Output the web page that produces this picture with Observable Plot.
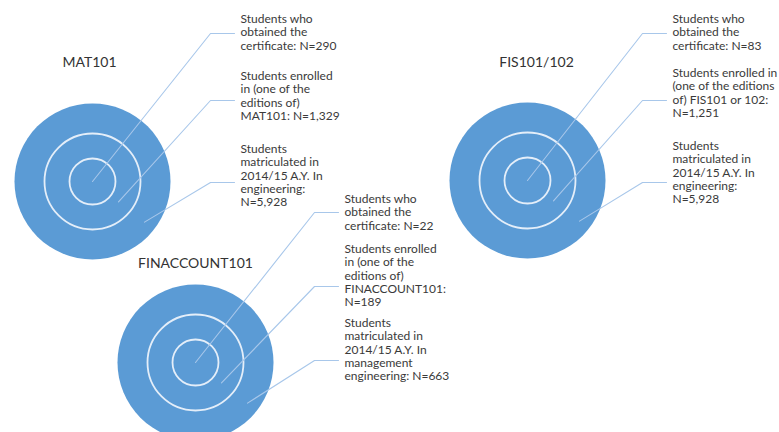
<!DOCTYPE html>
<html>
<head>
<meta charset="utf-8">
<script src="https://cdn.jsdelivr.net/npm/d3@7"></script>
<script src="https://cdn.jsdelivr.net/npm/@observablehq/plot@0.6"></script>
<style>
  html, body { margin: 0; padding: 0; background: #ffffff; }
  svg { display: block; }
</style>
</head>
<body>
<div id="chart"></div>
<script>
// ---- data ----
const courses = ["MAT101", "FIS101/102", "FINACCOUNT101"];
const certified = [290, 83, 22];
const enrolled = [1329, 1251, 189];
const matriculated = [5928, 5928, 663];
const enrolledWhat = ["MAT101", "FIS101 or 102", "FINACCOUNT101"];
const population = ["engineering", "engineering", "management engineering"];

const fmt = d3.format(",");

// label texts (line breaks as in the original callouts)
const labels = [
  [
    `Students who\nobtained the\ncertificate: N=${fmt(certified[0])}`,
    `Students enrolled\nin (one of the\neditions of)\n${enrolledWhat[0]}: N=${fmt(enrolled[0])}`,
    `Students\nmatriculated in\n2014/15 A.Y. In\n${population[0]}:\nN=${fmt(matriculated[0])}`
  ],
  [
    `Students who\nobtained the\ncertificate: N=${fmt(certified[1])}`,
    `Students enrolled in\n(one of the editions\nof) ${enrolledWhat[1]}:\nN=${fmt(enrolled[1])}`,
    `Students\nmatriculated in\n2014/15 A.Y. In\n${population[1]}:\nN=${fmt(matriculated[1])}`
  ],
  [
    `Students who\nobtained the\ncertificate: N=${fmt(certified[2])}`,
    `Students enrolled\nin (one of the\neditions of)\n${enrolledWhat[2]}:\nN=${fmt(enrolled[2])}`,
    `Students\nmatriculated in\n2014/15 A.Y. In\nmanagement\nengineering: N=${fmt(matriculated[2])}`
  ]
];

// ---- layout (diagram placement, not data) ----
const W = 779, H = 432;
const cx = [92, 527, 195];
const cy = [181, 180, 362];
const titleX = [89, 536, 195];
const titleY = [62, 62, 263];
const labelX = [240, 672, 344];
const labelTop = [[13, 70, 143], [13, 67, 140], [193, 243, 317]];
const hingeY = [[33, 100, 182], [33, 100, 182], [212, 286, 360]];
const ringR = [78, 48, 23];          // outer disk, middle ring, inner ring
const startDist = [0, 33, 66];       // where each leader starts inside its ring
const startAngle = 38 * Math.PI / 180;

// ---- tables for marks ----
const disks = courses.map((c, i) => ({course: c, x: cx[i], y: cy[i], r: ringR[0]}));
const rings = courses.flatMap((c, i) => [1, 2].map(k => ({course: c, x: cx[i], y: cy[i], r: ringR[k]})));
const titles = courses.map((c, i) => ({text: c, x: titleX[i], y: titleY[i]}));
const callouts = courses.flatMap((c, i) => [0, 1, 2].map(k => ({
  id: `${c}-${k}`, text: labels[i][k], x: labelX[i], y: labelTop[i][k]
})));
const leaders = courses.flatMap((c, i) => [0, 1, 2].flatMap(k => {
  const sx = cx[i] + startDist[k] * Math.cos(startAngle);
  const sy = cy[i] + startDist[k] * Math.sin(startAngle);
  const ex = labelX[i] - 6;
  const elx = labelX[i] - 30;
  return [
    {id: `${c}-${k}`, x: sx, y: sy},
    {id: `${c}-${k}`, x: elx, y: hingeY[i][k]},
    {id: `${c}-${k}`, x: ex, y: hingeY[i][k]}
  ];
}));

const chart = Plot.plot({
  width: W,
  height: H,
  margin: 0,
  x: {domain: [0, W], range: [0, W], axis: null},
  y: {domain: [0, H], range: [0, H], axis: null},
  r: {type: "identity"},
  style: {background: "#ffffff", overflow: "visible"},
  marks: [
    Plot.dot(disks, {x: "x", y: "y", r: "r", fill: "#5b9bd5", stroke: "none"}),
    Plot.dot(rings, {x: "x", y: "y", r: "r", fill: "none", stroke: "#e4eef9", strokeWidth: 1.8}),
    Plot.line(leaders, {x: "x", y: "y", z: "id", stroke: "#a8c7ea", strokeWidth: 1.1, curve: "linear"}),
    Plot.text(titles, {x: "x", y: "y", text: "text", fontSize: 14, fill: "#333333",
      fontFamily: "Lato, 'Open Sans', sans-serif", textAnchor: "middle"}),
    Plot.text(callouts, {x: "x", y: "y", text: "text", fontSize: 12, lineHeight: 1.11,
      fill: "#3a3a3a", fontFamily: "Lato, 'Open Sans', sans-serif",
      textAnchor: "start", lineAnchor: "top"})
  ]
});
document.getElementById("chart").appendChild(chart);
</script>
</body>
</html>
